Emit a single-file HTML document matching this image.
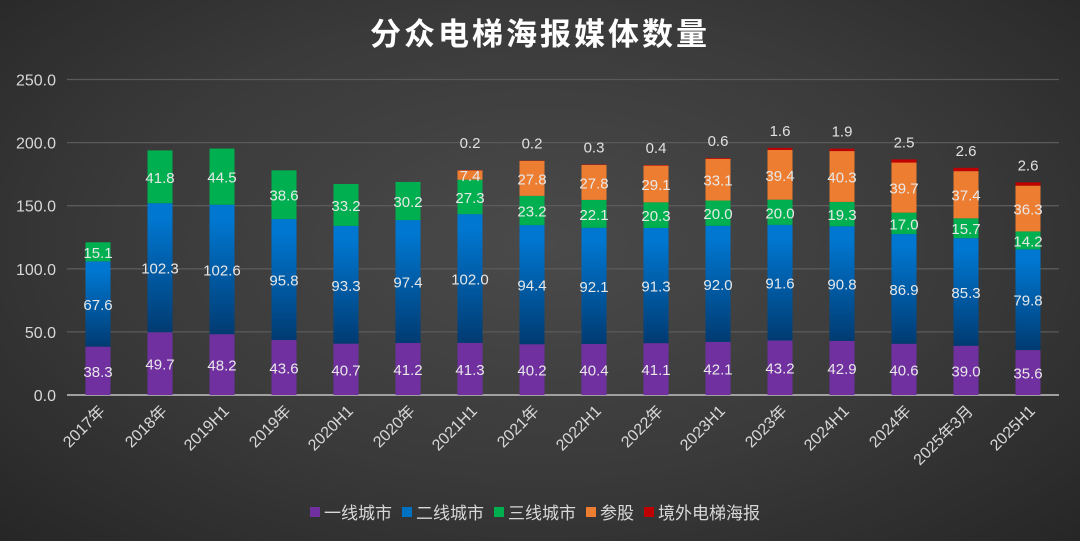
<!DOCTYPE html>
<html><head><meta charset="utf-8"><style>
body{margin:0;width:1080px;height:541px;overflow:hidden;background:radial-gradient(ellipse at 50% 45%,#4a4a4a 0%,#3a3a3a 55%,#262626 100%);font-family:"Liberation Sans","Noto Sans CJK SC",sans-serif;}
svg{position:absolute;left:0;top:0}
</style></head><body>
<svg id="c" width="1080" height="541">
<defs><linearGradient id="bg2" x1="0" y1="0" x2="0" y2="1"><stop offset="0.1" stop-color="#0078d2"/><stop offset="1" stop-color="#003b72"/></linearGradient></defs>
<text x="540" y="45" text-anchor="middle" fill="#fff" font-size="31" font-weight="bold" letter-spacing="3">分众电梯海报媒体数量</text>
</svg>
<script>
const categories=["2017年","2018年","2019H1","2019年","2020H1","2020年","2021H1","2021年","2022H1","2022年","2023H1","2023年","2024H1","2024年","2025年3月","2025H1"];
const tier1=[38.3,49.7,48.2,43.6,40.7,41.2,41.3,40.2,40.4,41.1,42.1,43.2,42.9,40.6,39.0,35.6];
const tier2=[67.6,102.3,102.6,95.8,93.3,97.4,102.0,94.4,92.1,91.3,92.0,91.6,90.8,86.9,85.3,79.8];
const tier3=[15.1,41.8,44.5,38.6,33.2,30.2,27.3,23.2,22.1,20.3,20.0,20.0,19.3,17.0,15.7,14.2];
const shares=[0,0,0,0,0,0,7.4,27.8,27.8,29.1,33.1,39.4,40.3,39.7,37.4,36.3];
const overseas=[0,0,0,0,0,0,0.2,0.2,0.3,0.4,0.6,1.6,1.9,2.5,2.6,2.6];
const yTicks=[0,50,100,150,200,250];
const seriesNames=["一线城市","二线城市","三线城市","参股","境外电梯海报"];
const NS="http://www.w3.org/2000/svg",svg=document.getElementById('c');
const L=67,W=992,y0=395,k=315.5/250,bw=25;
const y=v=>y0-v*k, xc=i=>L+W/categories.length*(i+0.5);
function el(t,a,p){const e=document.createElementNS(NS,t);for(const q in a)e.setAttribute(q,a[q]);(p||svg).appendChild(e);return e;}
yTicks.forEach(t=>{
 const g=el('line',{x1:L,x2:L+W,y1:y(t),y2:y(t),stroke:t?'#5a5a5a':'#a0a0a0','stroke-width':t?1.3:2});
 
 
 const tx=el('text',{x:56,y:y(t)+6,'text-anchor':'end',fill:'#d8d8d8','font-size':16});tx.textContent=t.toFixed(1);
 
 
});
const series=[tier1,tier2,tier3,shares,overseas],cols=['#7030a0','url(#bg2)','#00b050','#ed7d31','#c00000'];
categories.forEach((c,i)=>{
 let base=0;
 series.forEach((s,j)=>{
  const v=s[i];if(!v)return;
  const r=el('rect',{x:xc(i)-bw/2,y:y(base+v),width:bw,height:v*k,fill:cols[j]});
  
  
  base+=v;
 });
 let b=0;
 series.forEach((s,j)=>{
  const v=s[i];if(!v)return;
  let ly;
  if(j==4) ly=y(b+v)-(shares[i]<10?22:12);
  else ly=y(b+v/2)+6;
  const t=el('text',{x:xc(i),y:ly,'text-anchor':'middle',fill:j==4?'#e0e0e0':'#e8e8e8','font-size':15});t.textContent=v.toFixed(1);
  
  
  b+=v;
 });
 const xl=el('text',{x:xc(i)+8,y:412,'text-anchor':'end',fill:'#d8d8d8','font-size':16,transform:`rotate(-45 ${xc(i)+8} 412)`});xl.textContent=c;
 
 
});
const lc=['#7030a0','#0070c0','#00b050','#ed7d31','#c00000'];
let lx=310;
seriesNames.forEach((n,j)=>{
 const r=el('rect',{x:lx,y:507,width:10,height:10,fill:lc[j]});
 
 
 const t=el('text',{x:lx+14,y:519,fill:'#d8d8d8','font-size':17});t.textContent=n;
 
 
 lx+=14+n.length*17+10;
});
</script>
</body></html>
